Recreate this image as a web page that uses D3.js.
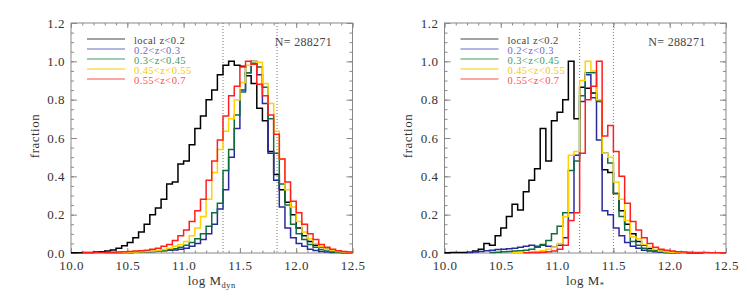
<!DOCTYPE html>
<html>
<head>
<meta charset="utf-8">
<script src="https://cdn.jsdelivr.net/npm/d3@7"></script>
<style>
body { margin: 0; background: #fff; }
text { font-family: "Liberation Serif", "DejaVu Serif", serif; fill: #333; }
</style>
</head>
<body>
<script>
// histogram bins: left edges every 0.05 starting at 10.0
var binStart = 10.0;
var binWidth = 0.05;

var seriesLabels = ["local z<0.2", "0.2<z<0.3", "0.3<z<0.45", "0.45<z<0.55", "0.55<z<0.7"];
var lineColors   = ["#000000", "#2a2a9e", "#0e6e3e", "#ffd200", "#ff1f1f"];
var legendColors = ["#444444", "#6b6bc2", "#3d9a6c", "#f7c800", "#ff4d4d"];

var xTicks = [10.0, 10.5, 11.0, 11.5, 12.0, 12.5];
var yTicks = [0.0, 0.2, 0.4, 0.6, 0.8, 1.0, 1.2];
var nLabel = "N= 288271";

// log M_dyn panel
var dynLocal = [0.001,0.001,0.002,0.003,0.005,0.007,0.01,0.016,0.025,0.038,
                0.055,0.08,0.11,0.15,0.2,0.235,0.28,0.36,0.37,0.465,
                0.48,0.565,0.65,0.715,0.8,0.85,0.93,0.98,1.0,0.98,
                0.975,0.925,0.885,0.755,0.69,0.53,0.41,0.33,0.265,0.2,
                0.13,0.09,0.06,0.04,0.03,0.02,0.012,0.007,0.004,0.002];
var dynZ1 = [null,null,null,null,null,null,0.001,0.001,0.002,0.002,
             0.003,0.004,0.005,0.006,0.008,0.01,0.012,0.015,0.016,0.02,
             0.025,0.035,0.05,0.07,0.1,0.15,0.23,0.33,0.5,0.65,
             0.85,0.94,1.0,0.93,0.78,0.52,0.38,0.24,0.13,0.08,
             0.05,0.035,0.02,0.013,0.008,0.005,0.003,0.002,0.001,null];
var dynZ2 = [null,null,null,null,null,null,null,null,0.001,0.002,
             0.003,0.004,0.005,0.006,0.008,0.01,0.013,0.017,0.022,0.03,
             0.04,0.055,0.075,0.1,0.14,0.21,0.26,0.43,0.54,0.72,
             0.84,0.94,0.99,0.97,0.865,0.7,0.52,0.36,0.25,0.15,
             0.1,0.07,0.045,0.03,0.018,0.011,0.007,0.004,0.002,0.001];
var dynZ3 = [null,null,null,null,null,0.001,0.001,0.002,0.002,0.003,
             0.004,0.005,0.006,0.008,0.01,0.013,0.018,0.025,0.035,0.045,
             0.06,0.09,0.13,0.19,0.28,0.42,0.54,0.635,0.7,0.8,
             0.89,0.98,1.0,0.995,0.885,0.78,0.635,0.49,0.33,0.24,
             0.165,0.11,0.075,0.05,0.032,0.02,0.013,0.008,0.005,0.003];
var dynZ4 = [null,null,0.001,0.001,0.002,0.002,0.003,0.004,0.005,0.006,
             0.008,0.01,0.012,0.015,0.02,0.025,0.035,0.045,0.065,0.09,
             0.12,0.165,0.22,0.28,0.38,0.48,0.59,0.715,0.82,0.87,
             0.97,1.0,0.985,0.88,0.82,0.72,0.62,0.49,0.37,0.27,
             0.21,0.15,0.1,0.07,0.045,0.03,0.02,0.012,0.008,0.005];

// log M* panel
var starLocal = [0.001,0.002,0.003,0.003,0.004,0.01,0.02,0.05,0.04,0.09,
                 0.13,0.19,0.255,0.225,0.32,0.38,0.44,0.65,0.48,0.69,
                 0.735,0.8,1.0,0.7,0.865,0.86,0.835,0.8,0.435,0.42,
                 0.31,0.22,0.15,0.1,0.06,0.04,0.025,0.015,0.01,0.006,
                 0.004,0.003,0.002,0.001,0.001,0.001,null,null,null,null];
var starZ1 = [null,null,null,null,0.002,0.005,0.008,0.012,0.015,0.018,
              0.02,0.022,0.025,0.03,0.035,0.04,0.035,0.04,0.035,0.03,
              0.04,0.08,0.21,0.51,0.79,0.93,0.81,0.59,0.22,0.2,
              0.13,0.09,0.055,0.035,0.025,0.015,0.01,0.006,0.004,0.002,
              0.001,null,null,null,null,null,null,null,null,null];
var starZ2 = [null,null,null,null,null,null,null,null,0.002,0.004,
              0.006,0.008,0.01,0.012,0.015,0.02,0.03,0.045,0.065,0.1,
              0.14,0.21,0.43,0.48,0.82,0.94,0.94,0.79,0.52,0.47,
              0.31,0.19,0.12,0.06,0.04,0.025,0.015,0.01,0.006,0.003,
              0.002,0.001,null,null,null,null,null,null,null,null];
var starZ3 = [null,null,null,null,null,null,null,null,null,null,
              null,null,0.001,0.002,0.003,0.005,0.008,0.012,0.02,0.03,
              0.05,0.19,0.51,0.53,0.9,1.0,0.95,0.8,0.52,0.5,
              0.37,0.28,0.17,0.085,0.075,0.045,0.03,0.018,0.01,0.007,
              0.004,0.002,0.001,null,null,null,null,null,null,null];
var starZ4 = [null,null,null,null,null,null,null,null,null,null,
              null,null,null,null,0.001,0.002,0.003,0.004,0.006,0.01,
              0.02,0.04,0.17,0.21,0.52,0.8,0.87,1.0,0.61,0.665,
              0.53,0.4,0.26,0.165,0.12,0.08,0.05,0.03,0.02,0.015,
              0.01,0.007,0.005,0.004,0.003,0.002,0.002,0.001,0.001,0.001];

var dynSeries  = [dynLocal, dynZ1, dynZ2, dynZ3, dynZ4];
var starSeries = [starLocal, starZ1, starZ2, starZ3, starZ4];
var dynMarks  = [11.35, 11.83];
var starMarks = [11.2, 11.5];

// layout
var width = 747, height = 299;
var plotTop = 23, plotH = 230, plotW = 281.5;

var svg = d3.select("body").append("svg")
    .attr("width", width)
    .attr("height", height);

function stepPoints(vals) {
    var pts = [];
    vals.forEach(function(v, i) {
        if (v == null) { pts.push(null); return; }
        var x0 = binStart + i * binWidth;
        pts.push([x0, v], [x0 + binWidth, v]);
    });
    return pts;
}

function drawPanel(left, series, marks, sub) {
    var x = d3.scaleLinear().domain([10, 12.5]).range([0, plotW]);
    var y = d3.scaleLinear().domain([0, 1.2]).range([plotH, 0]);
    var g = svg.append("g").attr("transform", "translate(" + left + "," + plotTop + ")");

    var xMinor = d3.range(0, 26).map(function(i) { return 10 + i * 0.1; });
    var yMinor = d3.range(0, 25).map(function(i) { return i * 0.05; });

    // minor ticks on all four sides
    g.append("g").attr("transform", "translate(0," + plotH + ")")
        .call(d3.axisBottom(x).tickValues(xMinor).tickSize(-2.5).tickFormat(""));
    g.append("g")
        .call(d3.axisTop(x).tickValues(xMinor).tickSize(-2.5).tickFormat(""));
    g.append("g")
        .call(d3.axisLeft(y).tickValues(yMinor).tickSize(-3).tickFormat(""));
    g.append("g").attr("transform", "translate(" + plotW + ",0)")
        .call(d3.axisRight(y).tickValues(yMinor).tickSize(-3).tickFormat(""));

    // major ticks and labels
    g.append("g").attr("class", "xaxis").attr("transform", "translate(0," + plotH + ")")
        .call(d3.axisBottom(x).tickValues(xTicks).tickSizeInner(-5).tickSizeOuter(0)
              .tickPadding(8).tickFormat(d3.format(".1f")));
    g.append("g")
        .call(d3.axisTop(x).tickValues(xTicks).tickSize(-5).tickFormat(""));
    g.append("g").attr("class", "yaxis")
        .call(d3.axisLeft(y).tickValues(yTicks).tickSizeInner(-6).tickSizeOuter(0)
              .tickPadding(6).tickFormat(d3.format(".1f")));
    g.append("g").attr("transform", "translate(" + plotW + ",0)")
        .call(d3.axisRight(y).tickValues(yTicks).tickSize(-6).tickFormat(""));

    g.selectAll(".domain").remove();
    g.selectAll(".tick line").attr("stroke", "#888");
    g.selectAll(".xaxis text, .yaxis text")
        .attr("font-family", "Liberation Serif, serif")
        .attr("font-size", "13px")
        .attr("letter-spacing", "0.5px")
        .attr("fill", "#333");

    // frame
    g.append("rect")
        .attr("width", plotW).attr("height", plotH)
        .attr("fill", "none").attr("stroke", "#888").attr("stroke-width", 1);

    // dotted reference lines
    g.selectAll(".mark").data(marks).enter().append("line")
        .attr("x1", function(d) { return x(d); })
        .attr("x2", function(d) { return x(d); })
        .attr("y1", 0).attr("y2", plotH)
        .attr("stroke", "#777").attr("stroke-width", 1)
        .attr("stroke-dasharray", "1,2");

    // histograms
    var line = d3.line()
        .defined(function(d) { return d != null; })
        .x(function(d) { return x(d[0]); })
        .y(function(d) { return y(d[1]); });

    series.forEach(function(vals, i) {
        g.append("path")
            .attr("d", line(stepPoints(vals)))
            .attr("fill", "none")
            .attr("stroke", lineColors[i])
            .attr("stroke-width", 1.5);
    });

    // legend
    var leg = g.selectAll(".leg").data(seriesLabels).enter().append("g")
        .attr("transform", function(d, i) { return "translate(0," + (16 + i * 10) + ")"; });
    leg.append("line")
        .attr("x1", 16).attr("x2", 54)
        .attr("stroke", function(d, i) { return legendColors[i]; })
        .attr("stroke-width", 1);
    leg.append("text")
        .attr("x", 63).attr("y", 1).attr("dy", "0.35em")
        .attr("font-size", "10.5px")
        .attr("letter-spacing", "0.4px")
        .style("fill", function(d, i) { return legendColors[i]; })
        .text(function(d) { return d; });

    g.append("text")
        .attr("x", 261).attr("y", 23)
        .attr("text-anchor", "end")
        .attr("font-size", "12px")
        .attr("letter-spacing", "0.3px")
        .style("fill", "#444")
        .text(nLabel);

    // axis titles
    g.append("text")
        .attr("transform", "translate(-37," + (plotH / 2 - 2) + ") rotate(-90)")
        .attr("text-anchor", "middle")
        .attr("dy", "0.35em")
        .attr("font-size", "13px")
        .attr("letter-spacing", "0.5px")
        .text("fraction");

    var xt = g.append("text")
        .attr("x", plotW / 2).attr("y", plotH + 32)
        .attr("text-anchor", "middle")
        .attr("font-size", "13px")
        .attr("letter-spacing", "0.5px");
    xt.append("tspan").text("log M");
    xt.append("tspan").attr("font-size", "8.5px").attr("dy", "3").text(sub);
}

drawPanel(71, dynSeries, dynMarks, "dyn");
drawPanel(444.5, starSeries, starMarks, "*");
</script>
</body>
</html>
